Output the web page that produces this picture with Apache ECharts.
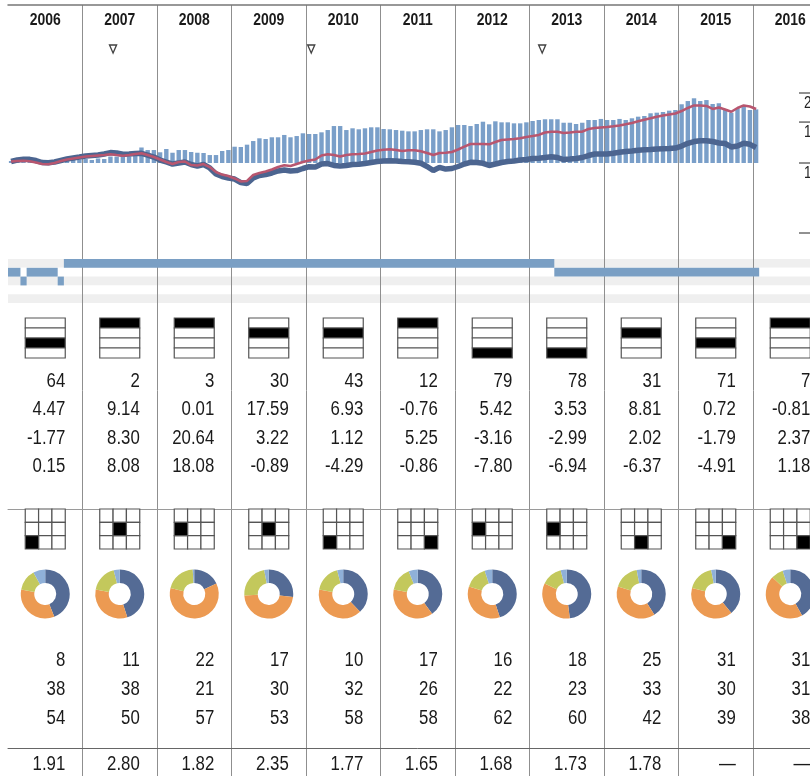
<!DOCTYPE html>
<html>
<head>
<meta charset="utf-8">
<script src="https://cdn.jsdelivr.net/npm/echarts@6.0.0/dist/echarts.min.js"></script>
<style>
  html, body { margin: 0; padding: 0; background: #fff; overflow: hidden; }
  #main { width: 830px; height: 776px; }
</style>
</head>
<body>
<div id="main"></div>
<script>
// ---- data ----
var years = ['2006', '2007', '2008', '2009', '2010', '2011', '2012', '2013', '2014', '2015', '2016'];
var startYear = 2006;

// growth of 10k (thousands), monthly from Jan 2006 to Jan 2016
var fundGrowth = [
  10.15, 10.30, 10.37, 10.37, 10.25, 10.05, 10.03, 10.10, 10.25, 10.40, 10.51, 10.61,
  10.72, 10.77, 10.82, 10.93, 11.09, 11.04, 10.90, 10.93, 10.98, 11.01, 10.82, 10.61,
  10.30, 10.10, 9.90, 10.00, 10.10, 9.85, 9.71, 9.85, 9.52, 8.97, 8.75, 8.62,
  8.53, 8.24, 8.16, 8.62, 8.84, 8.92, 9.06, 9.24, 9.33, 9.24, 9.28, 9.47,
  9.64, 9.61, 9.90, 9.95, 9.76, 9.71, 9.76, 9.85, 9.87, 9.95, 10.05, 10.15,
  10.20, 10.23, 10.20, 10.15, 10.13, 10.07, 9.97, 9.66, 9.28, 9.58, 9.42, 9.47,
  9.66, 9.90, 10.07, 10.05, 9.97, 9.76, 9.90, 10.05, 10.15, 10.20, 10.30, 10.35,
  10.46, 10.48, 10.56, 10.64, 10.56, 10.35, 10.40, 10.46, 10.56, 10.77, 10.93, 10.93,
  10.93, 11.01, 11.12, 11.21, 11.26, 11.34, 11.40, 11.43, 11.49, 11.52, 11.55, 11.60,
  11.83, 12.15, 12.37, 12.47, 12.47, 12.37, 12.19, 12.13, 11.72, 11.83, 12.15, 12.03,
  11.66
];
var indexGrowth = [
  10.15, 10.20, 10.22, 10.17, 10.05, 9.90, 9.87, 10.00, 10.20, 10.35, 10.46, 10.56,
  10.66, 10.72, 10.77, 10.82, 10.90, 10.82, 10.75, 10.82, 10.93, 11.01, 10.82, 10.61,
  10.35, 10.10, 9.90, 10.10, 10.15, 9.80, 9.76, 9.90, 9.61, 9.15, 8.92, 8.79,
  8.58, 8.33, 8.37, 8.88, 9.06, 9.19, 9.38, 9.61, 9.78, 9.71, 9.90, 10.10,
  10.25, 10.35, 10.77, 10.90, 10.82, 10.66, 10.82, 10.90, 10.93, 10.98, 11.15, 11.32,
  11.41, 11.45, 11.37, 11.26, 11.34, 11.34, 11.23, 11.04, 10.82, 11.04, 11.07, 11.15,
  11.43, 11.77, 12.07, 12.07, 12.07, 12.03, 12.31, 12.56, 12.62, 12.68, 12.77, 12.94,
  13.06, 13.20, 13.53, 13.63, 13.63, 13.46, 13.53, 13.63, 13.63, 14.00, 14.14, 14.21,
  14.28, 14.38, 14.50, 14.67, 14.86, 15.11, 15.35, 15.57, 15.82, 16.01, 16.17, 16.33,
  16.73, 17.24, 17.68, 17.68, 17.59, 17.07, 17.33, 16.98, 16.61, 17.24, 17.68, 17.50,
  17.07
];
var barGrowth = [
  10.20, 10.25, 10.30, 10.30, 10.22, 10.10, 10.08, 10.15, 10.22, 10.25, 10.30, 10.35,
  10.40, 10.30, 10.46, 10.40, 10.66, 10.66, 10.69, 10.66, 10.93, 11.66, 11.37, 11.37,
  11.12, 11.49, 11.07, 11.37, 11.37, 11.15, 11.07, 11.04, 10.82, 10.82, 11.26, 11.37,
  11.75, 11.72, 11.99, 12.43, 12.77, 12.68, 12.90, 12.90, 13.20, 12.90, 13.06, 13.42,
  13.33, 13.33, 13.55, 13.86, 14.42, 14.42, 13.86, 14.10, 13.96, 14.10, 14.24, 14.24,
  14.00, 13.96, 13.86, 13.77, 13.68, 13.68, 13.86, 13.96, 13.96, 13.68, 13.86, 14.24,
  14.57, 14.57, 14.42, 14.71, 15.05, 14.67, 15.11, 14.96, 14.96, 14.81, 14.81, 14.96,
  15.16, 15.31, 15.42, 15.42, 15.42, 14.90, 14.90, 14.71, 14.90, 15.31, 15.31, 15.47,
  15.31, 15.31, 15.47, 15.31, 15.57, 15.82, 15.93, 16.36, 16.46, 16.57, 16.79, 16.90,
  17.89, 18.47, 18.98, 18.47, 18.65, 17.94, 18.07, 17.01, 16.46, 17.19, 17.47, 16.90,
  17.01
];
var growthTicks = [20, 15, 10, 5];
var growthTickLabels = ['20k', '15k', '10k', ''];

var eventDates = [2007.41, 2010.07, 2013.17];

// timeline bands: [row, from, to]
var bandRows = ['r1', 'r2', 'r3', 'r4', 'r5'];
var bandSegments = [
  [0, 2006.75, 2013.333],
  [1, 2006.0, 2006.167],
  [1, 2006.25, 2006.667],
  [1, 2013.333, 2016.083],
  [2, 2006.167, 2006.25],
  [2, 2006.667, 2006.75]
];

var quartiles = [3, 1, 1, 2, 2, 1, 4, 4, 2, 3, 1];
var rankRow = ['64', '2', '3', '30', '43', '12', '79', '78', '31', '71', '7'];
var returnRow = ['4.47', '9.14', '0.01', '17.59', '6.93', '-0.76', '5.42', '3.53', '8.81', '0.72', '-0.81'];
var plusIndexRow = ['-1.77', '8.30', '20.64', '3.22', '1.12', '5.25', '-3.16', '-2.99', '2.02', '-1.79', '2.37'];
var plusCatRow = ['0.15', '8.08', '18.08', '-0.89', '-4.29', '-0.86', '-7.80', '-6.94', '-6.37', '-4.91', '1.18'];

// style box cell [row, col]
var styleCells = [[2, 0], [1, 1], [1, 0], [1, 1], [2, 0], [2, 2], [1, 0], [1, 0], [2, 1], [2, 2], [2, 2]];

var donutColors = ['#546b95', '#ec9a52', '#c3c85c', '#8fb0d8'];
var donutMix = [
  [44, 34, 14, 8], [45, 33, 18, 4], [18, 61, 20, 1], [27, 47, 23, 3],
  [38, 40, 18, 4], [40, 38, 16, 6], [45, 35, 15, 5], [48, 34, 14, 4],
  [41, 39, 17, 3], [39, 40, 18, 3], [42, 45, 8, 5]
];

var rowA = ['8', '11', '22', '17', '10', '17', '16', '18', '25', '31', '31'];
var rowB = ['38', '38', '21', '30', '32', '26', '22', '23', '33', '30', '31'];
var rowC = ['54', '50', '57', '53', '58', '58', '62', '60', '42', '39', '38'];
var lastRow = ['1.91', '2.80', '1.82', '2.35', '1.77', '1.65', '1.68', '1.73', '1.78', '—', '—'];

// ---- layout ----
var LEFT = 8, COLW = 74.5, GW = COLW * years.length;
var DONUT_Y = 594;
var FONT = '"Liberation Sans", Arial, sans-serif';

function monthX(i) { return startYear + (i + 0.5) / 12; }

function timeAxis(gi) {
  return { type: 'value', gridIndex: gi, min: 2006, max: 2017, show: false };
}
function catAxis(gi, extra) {
  var a = {
    type: 'category', gridIndex: gi, data: years, boundaryGap: true,
    axisLine: { show: false }, axisTick: { show: false }, axisLabel: { show: false }, splitLine: { show: false }
  };
  return Object.assign(a, extra || {});
}

// condensed-looking text: Liberation Sans squeezed horizontally
function textSeries(xIdx, yIdx, rows, opt) {
  opt = Object.assign({ dx: 20, align: 'right', size: 20, weight: 'normal', sx: 0.84 }, opt || {});
  var cells = [];
  rows.forEach(function (row, r) {
    row.forEach(function (t, i) { cells.push({ i: i, r: r, t: t }); });
  });
  return {
    type: 'custom', xAxisIndex: xIdx, yAxisIndex: yIdx, silent: true,
    data: cells.map(function (c) { return [c.i, c.r]; }),
    renderItem: function (params, api) {
      var c = cells[params.dataIndex];
      var p = api.coord([c.i, c.r]);
      return {
        type: 'text', x: p[0] + opt.dx, y: p[1], scaleX: opt.sx,
        style: {
          text: c.t, align: opt.align, verticalAlign: 'middle',
          fontFamily: FONT, fontSize: opt.size, fontWeight: opt.weight, fill: '#1a1a1a'
        }
      };
    }
  };
}

var chartDom = document.getElementById('main');
var myChart = echarts.init(chartDom);
var option;

option = {
  animation: false,
  grid: [
    { left: LEFT, width: GW, top: 5, height: 771 },   // 0 frame
    { left: LEFT, width: GW, top: 93, height: 140 },  // 1 growth chart
    { left: LEFT, width: GW, top: 43, height: 12 },   // 2 event markers
    { left: LEFT, width: GW, top: 259, height: 44 },  // 3 bands
    { left: LEFT, width: GW, top: 318, height: 40 },  // 4 quartile boxes
    { left: LEFT, width: GW, top: 367, height: 114 }, // 5 numbers
    { left: LEFT, width: GW, top: 509, height: 40 },  // 6 style boxes
    { left: LEFT, width: GW, top: 646, height: 87 },  // 7 lower numbers
    { left: LEFT, width: GW, top: 753, height: 25 },  // 8 last row
    { left: LEFT, width: GW, top: 5, height: 30 }     // 9 header
  ],
  xAxis: [
    {
      type: 'value', gridIndex: 0, min: 2006, max: 2017, interval: 1,
      axisLine: { show: false }, axisTick: { show: false }, axisLabel: { show: false },
      splitLine: { show: true, showMinLine: false, lineStyle: { color: '#8f8f8f', width: 1 } }
    },
    timeAxis(1),
    timeAxis(2),
    timeAxis(3),
    catAxis(4),
    catAxis(5),
    catAxis(6, { position: 'top', offset: 8, axisLine: { show: true, lineStyle: { color: '#9a9a9a', width: 1 } } }),
    catAxis(7),
    catAxis(8, { position: 'top', offset: 5, axisLine: { show: true, lineStyle: { color: '#666', width: 1 } } }),
    catAxis(9, { position: 'top', axisLine: { show: true, lineStyle: { color: '#777', width: 1.5 } } })
  ],
  yAxis: [
    { type: 'value', gridIndex: 0, min: 0, max: 1, show: false },
    { type: 'log', gridIndex: 1, min: 5, max: 20, show: false },
    { type: 'category', gridIndex: 2, data: ['m'], show: false },
    {
      type: 'category', gridIndex: 3, data: bandRows, inverse: true,
      axisLine: { show: false }, axisTick: { show: false }, axisLabel: { show: false, interval: 0 },
      splitLine: { show: false },
      splitArea: { show: true, interval: 0, areaStyle: { color: ['#efefef', '#ffffff'] } }
    },
    { type: 'value', gridIndex: 4, min: 0, max: 4, inverse: true, show: false },
    { type: 'category', gridIndex: 5, data: ['a', 'b', 'c', 'd'], inverse: true, show: false },
    { type: 'value', gridIndex: 6, min: 0, max: 3, inverse: true, show: false },
    { type: 'category', gridIndex: 7, data: ['a', 'b', 'c'], inverse: true, show: false },
    { type: 'category', gridIndex: 8, data: ['a'], show: false },
    { type: 'category', gridIndex: 9, data: ['h'], show: false }
  ],
  series: [
    {
      // monthly bars from the 10k baseline
      type: 'custom', xAxisIndex: 1, yAxisIndex: 1, silent: true, z: 2,
      data: barGrowth.map(function (v, i) { return [monthX(i), v]; }),
      renderItem: function (params, api) {
        var x = api.value(0), v = api.value(1);
        var top = api.coord([x, v]);
        var base = api.coord([x, 10]);
        var w = 4.4;
        return {
          type: 'rect',
          shape: { x: top[0] - w / 2, y: Math.min(top[1], base[1]), width: w, height: Math.abs(base[1] - top[1]) },
          style: { fill: '#7a9fc9' }
        };
      }
    },
    {
      name: 'fund', type: 'line', xAxisIndex: 1, yAxisIndex: 1, z: 3, symbol: 'none',
      data: fundGrowth.map(function (v, i) { return [monthX(i), v]; }),
      lineStyle: { color: '#4c6590', width: 5.5 }
    },
    {
      name: 'index', type: 'line', xAxisIndex: 1, yAxisIndex: 1, z: 4, symbol: 'none',
      data: indexGrowth.map(function (v, i) { return [monthX(i), v]; }),
      lineStyle: { color: '#b8566f', width: 2.5 }
    },
    {
      type: 'scatter', xAxisIndex: 2, yAxisIndex: 2, silent: true,
      data: eventDates.map(function (d) { return [d, 'm']; }),
      symbol: 'triangle', symbolRotate: 180, symbolSize: [7, 8],
      itemStyle: { color: '#fff', borderColor: '#111', borderWidth: 1.4 }
    },
    {
      type: 'custom', xAxisIndex: 3, yAxisIndex: 3, silent: true,
      encode: { x: [0, 1], y: 2 },
      data: bandSegments.map(function (s) { return [s[1], s[2], s[0]]; }),
      renderItem: function (params, api) {
        var s = bandSegments[params.dataIndex];
        var a = api.coord([s[1], s[0]]);
        var b = api.coord([s[2], s[0]]);
        var h = api.size([0, 1])[1];
        return { type: 'rect', shape: { x: a[0], y: a[1] - h / 2, width: b[0] - a[0], height: h }, style: { fill: '#7a9fc4' } };
      }
    },
    {
      type: 'custom', xAxisIndex: 4, yAxisIndex: 4, silent: true,
      data: quartiles.map(function (q, i) { return [i, 0]; }),
      renderItem: function (params, api) {
        var i = params.dataIndex, q = quartiles[i];
        var p = api.coord([i, 0]);
        var rowH = api.size([0, 1])[1];
        var w = 40, kids = [];
        for (var r = 0; r < 4; r++) {
          kids.push({
            type: 'rect',
            shape: { x: p[0] - w / 2, y: p[1] + r * rowH, width: w, height: rowH },
            style: { fill: r === q - 1 ? '#000' : '#fff', stroke: '#555', lineWidth: 1.2 }
          });
        }
        return { type: 'group', children: kids };
      }
    },
    textSeries(5, 5, [rankRow, returnRow, plusIndexRow, plusCatRow]),
    {
      type: 'custom', xAxisIndex: 6, yAxisIndex: 6, silent: true,
      data: styleCells.map(function (c, i) { return [i, 0]; }),
      renderItem: function (params, api) {
        var i = params.dataIndex, c = styleCells[i];
        var p = api.coord([i, 0]);
        var s = api.size([0, 1])[1];
        var kids = [];
        for (var r = 0; r < 3; r++) {
          for (var k = 0; k < 3; k++) {
            var on = (r === c[0] && k === c[1]);
            kids.push({
              type: 'rect',
              shape: { x: p[0] - 1.5 * s + k * s, y: p[1] + r * s, width: s, height: s },
              style: { fill: on ? '#000' : '#fff', stroke: '#555', lineWidth: 1.2 },
              z2: on ? 1 : 0
            });
          }
        }
        return { type: 'group', children: kids };
      }
    },
    textSeries(7, 7, [rowA, rowB, rowC]),
    textSeries(8, 8, [lastRow]),
    textSeries(9, 9, [years], { dx: 0, align: 'center', size: 17, weight: 'bold', sx: 0.82 })
  ]
};

option && myChart.setOption(option);

// donuts centred on the year columns, right-hand tick marks of the growth axis
var pies = donutMix.map(function (mix, i) {
  var cx = myChart.convertToPixel({ xAxisIndex: 6 }, years[i]);
  return {
    type: 'pie', silent: true, center: [cx, DONUT_Y], radius: [11, 24.5],
    startAngle: 90, clockwise: true, label: { show: false }, labelLine: { show: false },
    itemStyle: { borderWidth: 0 },
    data: mix.map(function (v, k) { return { value: v, itemStyle: { color: donutColors[k] } }; })
  };
});

var ticks = [];
growthTicks.forEach(function (v, k) {
  var y = myChart.convertToPixel({ yAxisIndex: 1 }, v);
  ticks.push({ type: 'line', shape: { x1: 799, y1: y, x2: 812, y2: y }, style: { stroke: '#222', lineWidth: 1 } });
  ticks.push({
    type: 'text', x: 804, y: y + 3, scaleX: 0.84,
    style: { text: growthTickLabels[k], fontFamily: FONT, fontSize: 16, fill: '#222', verticalAlign: 'top' }
  });
});

myChart.setOption({ series: option.series.concat(pies), graphic: ticks });
</script>
</body>
</html>
